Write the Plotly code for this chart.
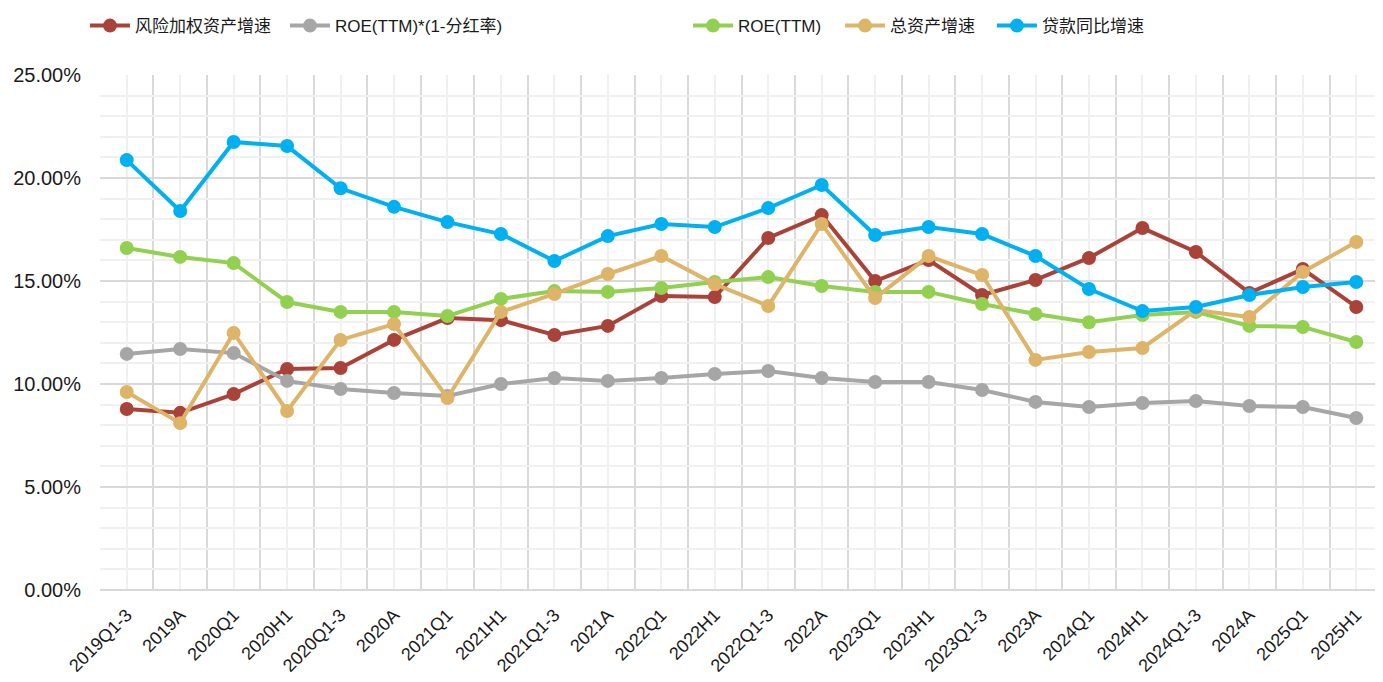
import plotly.graph_objects as go

categories = ["2019Q1-3", "2019A", "2020Q1", "2020H1", "2020Q1-3", "2020A", "2021Q1", "2021H1",
              "2021Q1-3", "2021A", "2022Q1", "2022H1", "2022Q1-3", "2022A", "2023Q1", "2023H1",
              "2023Q1-3", "2023A", "2024Q1", "2024H1", "2024Q1-3", "2024A", "2025Q1", "2025H1"]

rwa_growth = [8.79, 8.60, 9.51, 10.73, 10.78, 12.14, 13.20, 13.10, 12.38, 12.82, 14.27, 14.22,
              17.09, 18.20, 15.00, 16.02, 14.32, 15.05, 16.12, 17.57, 16.41, 14.42, 15.58, 13.74]
roe_retained = [11.46, 11.70, 11.50, 10.15, 9.76, 9.56, 9.42, 10.00, 10.29, 10.15, 10.29, 10.49,
                10.63, 10.29, 10.10, 10.10, 9.71, 9.13, 8.88, 9.08, 9.17, 8.93, 8.88, 8.35]
roe_ttm = [16.60, 16.17, 15.87, 13.98, 13.50, 13.50, 13.30, 14.13, 14.51, 14.47, 14.66, 14.95,
           15.19, 14.76, 14.47, 14.47, 13.88, 13.40, 13.00, 13.35, 13.50, 12.82, 12.77, 12.04]
asset_growth = [9.61, 8.10, 12.48, 8.69, 12.14, 12.91, 9.32, 13.50, 14.37, 15.34, 16.21, 14.85,
                13.79, 17.77, 14.17, 16.21, 15.29, 11.17, 11.55, 11.75, 13.59, 13.25, 15.44, 16.89]
loan_growth = [20.87, 18.40, 21.75, 21.55, 19.50, 18.60, 17.86, 17.28, 15.97, 17.18, 17.77, 17.62,
               18.54, 19.66, 17.23, 17.62, 17.28, 16.21, 14.61, 13.54, 13.74, 14.32, 14.71, 14.95]

series_names = ["风险加权资产增速", "ROE(TTM)*(1-分红率)", "ROE(TTM)", "总资产增速", "贷款同比增速"]
series_values = [rwa_growth, roe_retained, roe_ttm, asset_growth, loan_growth]
series_colors = ["#A9433A", "#A6A6A6", "#92D050", "#DDB468", "#00B0F0"]
legend_x = [-0.0117, 0.1442, 0.4583, 0.5768, 0.6952]

xs = list(range(len(categories)))

font_family = "Liberation Sans, Arial, Noto Sans CJK SC, sans-serif"
text_color = "#1a1a1a"

fig = go.Figure()
legend_layout = {}
for i, (name, vals, color) in enumerate(zip(series_names, series_values, series_colors)):
    lname = "legend" if i == 0 else f"legend{i + 1}"
    fig.add_trace(go.Scatter(
        x=xs, y=vals, name=name, mode="lines+markers",
        line=dict(color=color, width=4),
        marker=dict(color=color, size=14),
        legend=lname,
    ))
    legend_layout[lname] = dict(
        orientation="h", x=legend_x[i], xanchor="left", y=1.13, yanchor="top",
        font=dict(size=17, family=font_family, color=text_color),
        itemwidth=40, bgcolor="rgba(0,0,0,0)",
    )

fig.update_layout(
    width=1375, height=674,
    margin=dict(l=92, r=0, t=67, b=92),
    paper_bgcolor="white", plot_bgcolor="white",
    font=dict(family=font_family, color=text_color),
    showlegend=True,
    xaxis=dict(
        range=[-0.5, len(categories) - 0.5],
        tickmode="array", tickvals=xs, ticktext=categories,
        tickangle=-45, tickfont=dict(size=18),
        showgrid=True, gridcolor="#F0F0F0", gridwidth=2,
        minor=dict(tickmode="linear", tick0=-0.5, dtick=1, showgrid=True,
                   gridcolor="#D9D9D9", gridwidth=2, ticks=""),
        ticks="", showline=False, zeroline=False, ticklabelstandoff=10,
        automargin=False,
    ),
    yaxis=dict(
        range=[0, 25], dtick=5, tick0=0,
        tickformat=".2f", ticksuffix="%",
        tickfont=dict(size=20),
        showgrid=True, gridcolor="#D9D9D9", gridwidth=2,
        minor=dict(dtick=1, showgrid=True, gridcolor="#F0F0F0", gridwidth=2),
        ticks="", ticklabelstandoff=18,
        showline=False, zeroline=True, zerolinecolor="#D9D9D9", zerolinewidth=2,
        automargin=False,
    ),
    **legend_layout,
)

fig.write_html("out.html")
